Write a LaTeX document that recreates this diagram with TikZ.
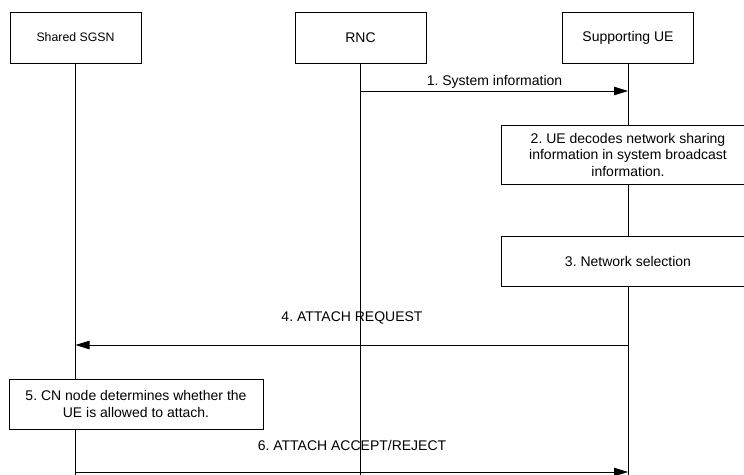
\documentclass[tikz,border=0pt]{standalone}
\usepackage{fontspec}
\setmainfont{Liberation Sans}
\usetikzlibrary{arrows.meta}
\frenchspacing

\begin{document}
\begin{tikzpicture}[x=1pt,y=-1pt,line width=0.8pt,
                    every node/.style={font=\fontsize{14}{16.5}\selectfont},
                    entity/.style={draw,fill=white,minimum width=131pt,minimum height=51pt,inner sep=0pt},
                    action/.style={draw,fill=white,minimum width=254pt,align=center,inner sep=0pt},
                    msg/.style={-{Triangle[length=14pt,width=8.5pt]}}]
                    \useasboundingbox (0,0) rectangle (744,474);
                    \clip (0,0) rectangle (744,474);

                    \node[entity,font=\fontsize{12.3}{14}\selectfont] (sgsn) at (75.5,37.5) {Shared SGSN};
                    \node[entity] (rnc) at (360.5,37.5) {RNC};
                    \node[entity] (ue) at (628,37.5) {Supporting UE};

                    \coordinate (sgsn end) at (sgsn.south |- 0,480);
                    \coordinate (rnc end) at (rnc.south |- 0,480);
                    \coordinate (ue end) at (ue.south |- 0,480);
                    \draw (sgsn.south) -- (sgsn end);
                    \draw (rnc.south) -- (rnc end);
                    \draw (ue.south) -- (ue end);

                    % 1. system information
                    \coordinate (m1 rnc) at (rnc.south |- 0,91);
                    \coordinate (m1 ue) at (ue.south |- 0,91);
                    \draw[msg] (m1 rnc) -- (m1 ue);
                    \node (l1) at (494.5,82) {1. System information};

                    \node[action,minimum height=59pt] (decode) at (628,154.5)
                         {2. UE decodes network sharing\\information in system broadcast\\information.};
                    \node[action,minimum height=50pt] (select) at (628,261) {3. Network selection};

                    % 4. attach request
                    \coordinate (m4 ue) at (ue.south |- 0,345);
                    \coordinate (m4 sgsn) at (sgsn.south |- 0,345);
                    \draw[msg] (m4 ue) -- (m4 sgsn);
                    \node (l4) at (352,318) {4. ATTACH REQUEST};

                    \node[action,minimum height=50pt] (check) at (136,404)
                         {5. CN node determines whether the\\UE is allowed to attach.};

                    % 6. attach accept/reject
                    \coordinate (m6 sgsn) at (sgsn.south |- 0,472);
                    \coordinate (m6 ue) at (ue.south |- 0,472);
                    \draw[msg] (m6 sgsn) -- (m6 ue);
                    \node (l6) at (352,445) {6. ATTACH ACCEPT/REJECT};

                \end{tikzpicture}
\end{document}
